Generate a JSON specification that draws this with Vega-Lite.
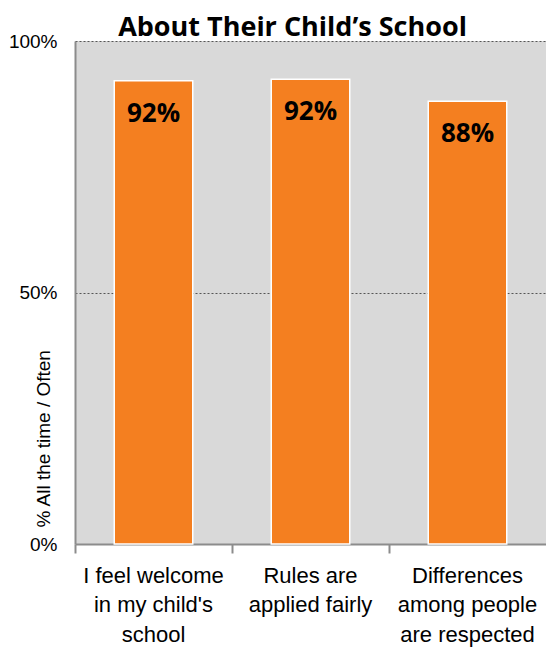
{
  "$schema": "https://vega.github.io/schema/vega-lite/v6.json",
  "autosize": "none",
  "width": 471,
  "height": 503,
  "padding": {"left": 75, "top": 41, "right": 0, "bottom": 104},
  "background": "white",
  "title": {
    "text": "About Their Child’s School",
    "font": "Open Sans",
    "fontSize": 27,
    "fontWeight": "bold",
    "color": "#000000",
    "anchor": "middle",
    "frame": "group",
    "dx": -18,
    "dy": 35,
    "baseline": "alphabetic",
    "offset": 4
  },
  "config": {"view": {"fill": "#d9d9d9", "stroke": null}},
  "data": {
    "values": [
      {"statement": "I feel welcome in my child's school", "pct": 0.921},
      {"statement": "Rules are applied fairly", "pct": 0.924},
      {"statement": "Differences among people are respected", "pct": 0.88}
    ]
  },
  "resolve": {"axis": {"x": "independent"}},
  "layer": [
    {
      "mark": {"type": "bar", "width": {"band": 0.5}, "color": "#f47f20", "stroke": "white", "strokeWidth": 1.5},
      "encoding": {
        "x": {
          "field": "statement",
          "type": "nominal",
          "sort": null,
          "scale": {"paddingInner": 0, "paddingOuter": 0},
          "axis": {
            "orient": "bottom",
            "title": null,
            "labels": false,
            "bandPosition": 0,
            "domainColor": "#8c8c8c",
            "domainWidth": 2,
            "tickColor": "#8c8c8c",
            "tickWidth": 2,
            "tickSize": 9
          }
        },
        "y": {
          "field": "pct",
          "type": "quantitative",
          "scale": {"domain": [0, 1]},
          "axis": {
            "values": [0, 0.5, 1],
            "format": ".0%",
            "grid": true,
            "gridDash": [2, 2],
            "gridColor": "#555555",
            "gridWidth": 1,
            "gridOpacity": {"condition": {"test": "datum.value === 0", "value": 0}, "value": 1},
            "domainColor": "#8c8c8c",
            "domainWidth": 2,
            "ticks": false,
            "labelPadding": 18,
            "labelFont": "Liberation Sans",
            "labelFontSize": 19,
            "labelColor": "#000000",
            "title": "% All the time / Often",
            "titleFont": "Liberation Sans",
            "titleFontSize": 19,
            "titleFontWeight": "normal",
            "titleColor": "#000000",
            "titleAngle": 270,
            "titleAlign": "left",
            "titleBaseline": "middle",
            "titleX": -32,
            "titleY": 486
          }
        }
      }
    },
    {
      "mark": {"type": "text", "font": "Open Sans", "fontSize": 26, "fontWeight": "bold", "baseline": "alphabetic", "dy": 41, "color": "#000000"},
      "encoding": {
        "x": {
          "field": "statement",
          "type": "nominal",
          "sort": null,
          "scale": {"paddingInner": 0, "paddingOuter": 0},
          "axis": {
            "orient": "bottom",
            "title": null,
            "labelAngle": 0,
            "domain": false,
            "ticks": false,
            "labelFont": "Liberation Sans",
            "labelFontSize": 22,
            "labelColor": "#000000",
            "labelLineHeight": 29.5,
            "labelBaseline": "top",
            "labelPadding": 21,
            "labelExpr": "datum.value == 'Rules are applied fairly' ? ['Rules are', 'applied fairly'] : datum.value == 'Differences among people are respected' ? ['Differences', 'among people', 'are respected'] : ['I feel welcome', \"in my child's\", 'school']"
          }
        },
        "y": {"field": "pct", "type": "quantitative"},
        "text": {"field": "pct", "type": "quantitative", "format": ".0%"}
      }
    }
  ]
}
